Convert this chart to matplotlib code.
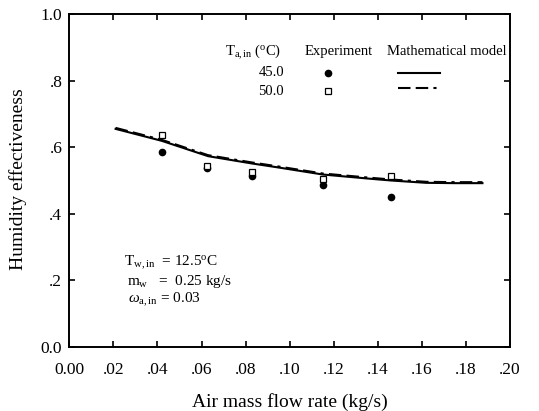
import matplotlib
matplotlib.use("Agg")
import matplotlib.pyplot as plt

plt.rcParams['font.family'] = ['Liberation Serif', 'DejaVu Serif']
plt.rcParams['mathtext.fontset'] = 'custom'
plt.rcParams['mathtext.rm'] = 'Liberation Serif'
plt.rcParams['mathtext.it'] = 'Liberation Serif:italic'

# Experimental data
exp_x = [0.042, 0.0627, 0.083, 0.115, 0.146]
exp_45 = [0.585, 0.537, 0.514, 0.486, 0.449]
exp_50 = [0.637, 0.545, 0.524, 0.503, 0.512]

# Mathematical model curves
model_x = [0.021, 0.042, 0.063, 0.083, 0.094, 0.115, 0.137, 0.146, 0.162, 0.175, 0.1875]
model_45 = [0.655, 0.619, 0.573, 0.551, 0.540, 0.518, 0.505, 0.500, 0.493, 0.492, 0.492]
model_50 = [0.658, 0.622, 0.576, 0.554, 0.543, 0.521, 0.508, 0.503, 0.496, 0.495, 0.495]

xticks = [0.00, 0.02, 0.04, 0.06, 0.08, 0.10, 0.12, 0.14, 0.16, 0.18, 0.20]
xticklabels = ['0.00', '.02', '.04', '.06', '.08', '.10', '.12', '.14', '.16', '.18', '.20']
yticks = [0.0, 0.2, 0.4, 0.6, 0.8, 1.0]
yticklabels = ['0.0', '.2', '.4', '.6', '.8', '1.0']

fig = plt.figure(figsize=(5.39, 4.11), dpi=100)
ax = fig.add_axes([0.1286, 0.1557, 0.8176, 0.8103])

dash = (0, (6, 2.5, 6, 2.5, 1.5, 2.5))
ax.plot(model_x, model_45, color='black', lw=1.5, ls='-')
ax.plot(model_x, model_50, color='black', lw=1.5, ls=dash)
ax.plot(exp_x, exp_45, 'o', color='black', ms=4.5, ls='none')
ax.plot(exp_x, exp_50, 's', mfc='white', mec='black', mew=0.9, ms=4.2, ls='none')

ax.set_xlim(0, 0.20)
ax.set_ylim(0, 1.0)
ax.set_xticks(xticks)
ax.set_xticklabels(xticklabels)
ax.set_yticks(yticks)
ax.set_yticklabels(yticklabels)
ax.tick_params(direction='in', length=4, width=1.2, top=True, right=True,
               labelsize=12.5)
ax.tick_params(axis='x', pad=11)
ax.tick_params(axis='y', pad=5)
for s in ax.spines.values():
    s.set_linewidth(1.4)

ax.set_xlabel('Air mass flow rate (kg/s)', fontsize=14, va='center', ha='center')
ax.xaxis.set_label_coords(0.5, -0.165)
ax.set_ylabel('Humidity effectiveness', fontsize=14, va='center', ha='center')
ax.yaxis.set_label_coords(-0.1164, 0.5045)

def px(x, y):
    # convert pixel position (from top-left) to figure fraction
    return (x / 539.0, 1 - y / 411.0)

fs = 10.5
fig.text(*px(253, 51.7), r'$\mathrm{T}_{\mathrm{a,in}}$ ($^{\mathrm{o}}$C)', fontsize=fs, ha='center', va='center')
fig.text(*px(339, 51.7), 'Experiment', fontsize=fs, ha='center', va='center')
fig.text(*px(447, 51.7), 'Mathematical model', fontsize=fs, ha='center', va='center')
fig.text(*px(284, 72.7), '45.0', fontsize=fs, ha='right', va='center')
fig.text(*px(284, 91.5), '50.0', fontsize=fs, ha='right', va='center')
fig.lines.append(plt.Line2D([327.7 / 539], [1 - 72.7 / 411], marker='o', color='black', ms=4.5,
                            ls='none', transform=fig.transFigure))
fig.lines.append(plt.Line2D([327.7 / 539], [1 - 91.5 / 411], marker='s', mfc='white', mec='black',
                            mew=0.9, ms=4.2, ls='none', transform=fig.transFigure))
fig.lines.append(plt.Line2D([398 / 539, 440 / 539], [1 - 72.7 / 411] * 2, color='black', lw=1.5,
                            transform=fig.transFigure))
fig.lines.append(plt.Line2D([398 / 539, 441 / 539], [1 - 88 / 411] * 2, color='black', lw=1.5,
                            ls=dash, transform=fig.transFigure))

# Conditions annotation
fa = 11
fig.text(*px(124, 263), r'$\mathrm{T}_{\mathrm{w,in}}$  = 12.5$^{\mathrm{o}}$C', fontsize=fa, ha='left', va='center')
fig.text(*px(127, 281.5), r'$\mathrm{m}_{\mathrm{w}}$   =  0.25 kg/s', fontsize=fa, ha='left', va='center')
fig.text(*px(128, 299.5), r'$\omega_{\mathrm{a,in}}$ = 0.03', fontsize=fa, ha='left', va='center')

fig.savefig('out.png', dpi=100)
